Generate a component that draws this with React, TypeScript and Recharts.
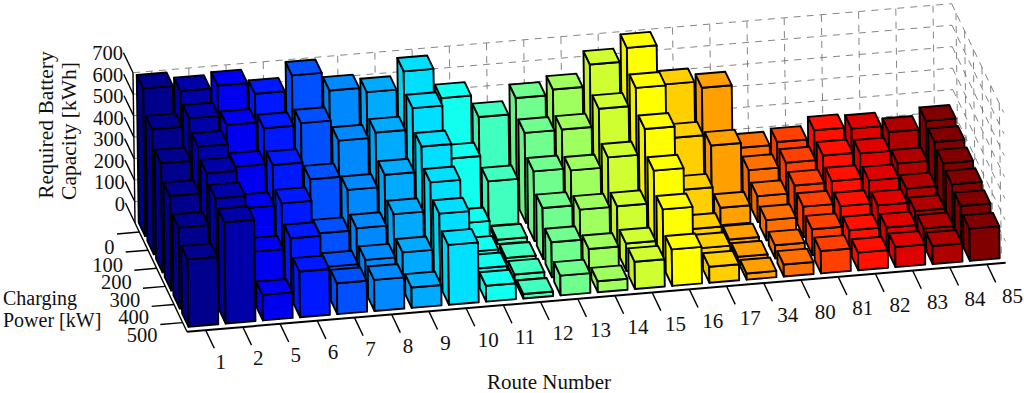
import React from 'react';
import { ScatterChart, Scatter, XAxis, YAxis } from 'recharts';

const routes = ['1', '2', '5', '6', '7', '8', '9', '10', '11', '12', '13', '14', '15', '16', '17', '34', '80', '81', '82', '83', '84', '85'];
const powers = [0, 100, 200, 300, 400, 500];
const capacityTicks = [0, 100, 200, 300, 400, 500, 600, 700];

// required capacity per route, one list per charging power
const capacity0 = [688, 661, 672, 619, 690, 605, 583, 665, 526, 423, 497, 522, 624, 687, 502, 472, 178, 190, 230, 223, 193, 230];
const capacity100 = [582, 618, 573, 543, 552, 456, 479, 578, 329, 208, 419, 420, 502, 585, 338, 287, 158, 178, 197, 192, 131, 216];
const capacity200 = [508, 571, 463, 456, 375, 311, 367, 484, 111, 20, 324, 314, 360, 478, 180, 82, 121, 156, 162, 151, 98, 201];
const capacity300 = [440, 531, 354, 362, 208, 217, 268, 401, 63, 20, 238, 216, 217, 368, 82, 18, 94, 142, 130, 119, 78, 188];
const capacity400 = [377, 499, 236, 284, 137, 154, 174, 340, 70, 27, 163, 117, 128, 272, 77, 22, 61, 121, 102, 100, 81, 171];
const capacity500 = [314, 472, 119, 213, 144, 145, 95, 279, 74, 21, 92, 51, 127, 170, 75, 29, 56, 104, 82, 94, 84, 150];
const capacityRows = [capacity0, capacity100, capacity200, capacity300, capacity400, capacity500];

const routeColors = ['#00008c', '#0000a8', '#0000f0', '#0018ff', '#0050ff', '#0088ff', '#00aaff', '#00dfff', '#10ffef', '#40ffbf', '#70ff8f', '#9fff5f', '#cfff30', '#ffff00', '#ffcf00', '#ffa000', '#ff7000', '#ff4000', '#ff1000', '#df0000', '#af0000', '#800000'];

const serif = '"Liberation Serif", serif';

// oblique view of the three axes
const ORIGIN = { x: 135, y: 223 };
const ROUTE_STEP = { x: 37.21, y: -3.136 };
const POWER_STEP = { x: 8.67, y: 18.12 };
const VALUE_STEP = { x: -0.00286, y: -0.2147 };

const project = (r: number, p: number, v: number) => ({
  x: ORIGIN.x + (r + 0.5) * ROUTE_STEP.x + (p + 0.5) * POWER_STEP.x + v * VALUE_STEP.x,
  y: ORIGIN.y + (r + 0.5) * ROUTE_STEP.y + (p + 0.5) * POWER_STEP.y + v * VALUE_STEP.y,
});

const shade = (hex: string, f: number) => {
  const n = parseInt(hex.slice(1), 16);
  const c = [(n >> 16) & 255, (n >> 8) & 255, n & 255].map((d) => Math.round(d * f));
  return `rgb(${c[0]},${c[1]},${c[2]})`;
};

const segment = (a: any, b: any, kind: string) => ({ sx: a.x, sy: a.y, dx: b.x - a.x, dy: b.y - a.y, kind });

// bars: back row first, right to left inside a row
const bars: any[] = [];
capacityRows.forEach((row, p) => {
  for (let r = row.length - 1; r >= 0; r--) {
    const at = project(r, p - 0.13, 0);
    bars.push({ sx: at.x, sy: at.y, route: r, value: row[r] });
  }
});

const gridLines: any[] = [];
const lastRoute = routes.length - 0.5;
const lastPower = powers.length - 0.5;
capacityTicks.slice(1).forEach((v) => {
  gridLines.push(segment(project(-0.5, -0.5, v), project(lastRoute, -0.5, v), 'grid'));
  gridLines.push(segment(project(lastRoute, -0.5, v), project(lastRoute, lastPower, v), 'grid'));
});
routes.forEach((_, r) => {
  gridLines.push(segment(project(r, -0.5, 0), project(r, -0.5, 700), 'grid'));
});
powers.forEach((_, p) => {
  gridLines.push(segment(project(lastRoute, p, 0), project(lastRoute, p, 700), 'grid'));
});

const axisLines: any[] = [
  segment(project(-0.5, -0.5, 0), project(-0.5, -0.5, 700), 'axis'),
  segment(project(-0.5, -0.5, 0), project(-0.5, lastPower, 0), 'axis'),
  segment(project(-0.5, lastPower, 0), project(lastRoute, lastPower, 0), 'front'),
];
capacityTicks.forEach((v) => {
  axisLines.push(segment(project(-0.5, -0.5, v), project(-0.5, -1.6, v), 'axis'));
});
powers.forEach((_, p) => {
  axisLines.push(segment(project(-0.5, p, 0), project(-1.1, p, 0), 'axis'));
});
routes.forEach((_, r) => {
  axisLines.push(segment(project(r, lastPower, 0), project(r, lastPower + 1, 0), 'axis'));
});

const texts: any[] = [];
capacityTicks.forEach((v) => {
  const end = project(-0.5, -1.6, v);
  texts.push({ sx: end.x - 0.5, sy: end.y + 7.5, label: String(v), anchor: 'end', size: 20.5 });
});
powers.forEach((v, p) => {
  texts.push({ sx: 114.5 + 8.6 * p, sy: 254 + 17.6 * p, label: String(v), anchor: 'end', size: 20.5 });
});
routes.forEach((label, r) => {
  texts.push({ sx: 215.5 + 37.45 * r, sy: 368.5 - 3.12 * r, label, anchor: 'start', size: 21 });
});
texts.push({ sx: 3, sy: 305, label: 'Charging', anchor: 'start', size: 20 });
texts.push({ sx: 3, sy: 327, label: 'Power [kW]', anchor: 'start', size: 20 });
texts.push({ sx: 549, sy: 389, label: 'Route Number', anchor: 'middle', size: 21 });
texts.push({ sx: 53, sy: 125, label: 'Required Battery', anchor: 'middle', size: 21.5, rotate: -90 });
texts.push({ sx: 76, sy: 131, label: 'Capacity [kWh]', anchor: 'middle', size: 21.5, rotate: -90 });

const HALF_W = 0.4;
const HALF_D = 0.37;

const BarBox = (props: any) => {
  const { cx, cy, payload } = props;
  const color = routeColors[payload.route];
  const h = payload.value;
  const pt = (a: number, b: number, up: number) => {
    const x = cx + a * ROUTE_STEP.x + b * POWER_STEP.x + up * VALUE_STEP.x;
    const y = cy + a * ROUTE_STEP.y + b * POWER_STEP.y + up * VALUE_STEP.y;
    return `${x},${y}`;
  };
  const line = { stroke: '#000', strokeWidth: 1.9, strokeLinejoin: 'round' as const };
  return (
    <g>
      <polygon
        points={[pt(-HALF_W, -HALF_D, 0), pt(-HALF_W, HALF_D, 0), pt(-HALF_W, HALF_D, h), pt(-HALF_W, -HALF_D, h)].join(' ')}
        fill={shade(color, 0.94)}
        {...line}
      />
      <polygon
        points={[pt(-HALF_W, HALF_D, 0), pt(HALF_W, HALF_D, 0), pt(HALF_W, HALF_D, h), pt(-HALF_W, HALF_D, h)].join(' ')}
        fill={color}
        {...line}
      />
      <polygon
        points={[pt(-HALF_W, -HALF_D, h), pt(HALF_W, -HALF_D, h), pt(HALF_W, HALF_D, h), pt(-HALF_W, HALF_D, h)].join(' ')}
        fill={color}
        {...line}
      />
    </g>
  );
};

const SegmentLine = (props: any) => {
  const { cx, cy, payload } = props;
  const kind = payload.kind;
  return (
    <line
      x1={cx}
      y1={cy}
      x2={cx + payload.dx}
      y2={cy + payload.dy}
      stroke={kind === 'grid' ? '#666' : '#000'}
      strokeWidth={kind === 'grid' ? 0.8 : kind === 'front' ? 2 : 1.4}
      strokeDasharray={kind === 'grid' ? '7 6' : undefined}
    />
  );
};

const PlainText = (props: any) => {
  const { cx, cy, payload } = props;
  return (
    <text
      x={cx}
      y={cy}
      textAnchor={payload.anchor}
      fontFamily={serif}
      fontSize={payload.size}
      fill="#111"
      transform={payload.rotate ? `rotate(${payload.rotate} ${cx} ${cy})` : undefined}
    >
      {payload.label}
    </text>
  );
};

const App: React.FC = () => {
  return (
    <div style={{ position: 'absolute', left: 0, top: 0, width: 1024, height: 393, background: '#fff', overflow: 'hidden' }}>
      <ScatterChart width={1024} height={393} margin={{ top: 0, right: 0, bottom: 0, left: 0 }}>
        <XAxis dataKey="sx" type="number" domain={[0, 1024]} hide />
        <YAxis dataKey="sy" type="number" domain={[0, 393]} reversed hide />
        <Scatter data={gridLines} shape={SegmentLine} isAnimationActive={false} />
        <Scatter data={axisLines} shape={SegmentLine} isAnimationActive={false} />
        <Scatter data={bars} shape={BarBox} isAnimationActive={false} />
        <Scatter data={texts} shape={PlainText} isAnimationActive={false} />
      </ScatterChart>
    </div>
  );
};

export default App;
